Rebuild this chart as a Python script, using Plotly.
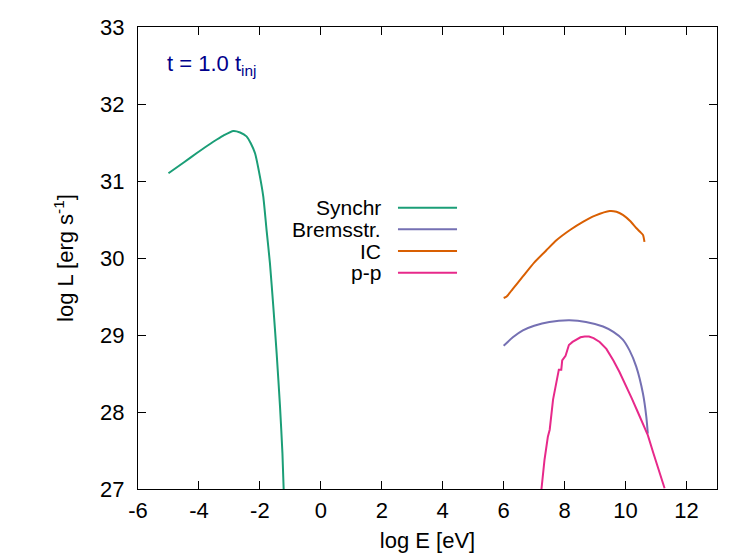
import plotly.graph_objects as go

# ---- data (log E [eV], log L [erg/s]) ----
synchr_E = [-5.0, -4.5, -4.08, -3.53, -3.2, -2.87, -2.65, -2.44, -2.3, -2.16, -2.0, -1.89, -1.78, -1.67, -1.56, -1.45, -1.34, -1.26, -1.22]
synchr_L = [31.10, 31.24, 31.36, 31.51, 31.59, 31.65, 31.63, 31.58, 31.49, 31.36, 31.06, 30.80, 30.36, 29.93, 29.37, 28.76, 28.07, 27.46, 27.00]

brems_E = [6.0, 6.3, 6.63, 7.0, 7.5, 8.16, 8.7, 9.26, 9.6, 9.91, 10.13, 10.35, 10.57, 10.68, 10.73]
brems_L = [28.86, 28.97, 29.06, 29.12, 29.17, 29.19, 29.17, 29.11, 29.04, 28.94, 28.80, 28.59, 28.24, 27.94, 27.72]

ic_E = [6.0, 6.1, 6.3, 6.63, 7.0, 7.4, 7.73, 8.2, 8.6, 9.0, 9.48, 9.7, 9.91, 10.15, 10.35, 10.50, 10.57, 10.62]
ic_L = [29.48, 29.50, 29.60, 29.76, 29.94, 30.10, 30.23, 30.37, 30.47, 30.55, 30.61, 30.60, 30.56, 30.48, 30.39, 30.33, 30.30, 30.21]

pp_E = [7.24, 7.34, 7.45, 7.51, 7.62, 7.73, 7.81, 7.89, 7.92, 8.03, 8.08, 8.14, 8.26, 8.38, 8.52, 8.66, 8.8, 8.95, 9.15, 9.37, 9.6, 9.8, 10.02, 10.2, 10.4, 10.6, 10.73, 10.9, 11.1, 11.28]
pp_L = [27.00, 27.38, 27.68, 27.77, 28.16, 28.37, 28.55, 28.55, 28.67, 28.73, 28.81, 28.87, 28.91, 28.94, 28.97, 28.98, 28.98, 28.96, 28.91, 28.82, 28.67, 28.52, 28.34, 28.18, 28.00, 27.83, 27.70, 27.48, 27.24, 27.01]

series_names = ["Synchr", "Bremsstr.", "IC", "p-p"]
series_colors = ["#1b9e77", "#7570b3", "#d95f02", "#e7298a"]
series_shapes = ["spline", "spline", "spline", "linear"]
series_data = [(synchr_E, synchr_L), (brems_E, brems_L), (ic_E, ic_L), (pp_E, pp_L)]

x_ticks = [-6, -4, -2, 0, 2, 4, 6, 8, 10, 12]
y_ticks = [27, 28, 29, 30, 31, 32, 33]

FONT = "Liberation Sans, Arial, sans-serif"
FS = 22

fig = go.Figure()
for name, color, shp, (xs, ys) in zip(series_names, series_colors, series_shapes, series_data):
    fig.add_trace(go.Scatter(x=xs, y=ys, mode="lines", name=name,
                             line=dict(color=color, width=2, shape=shp, smoothing=0.6),
                             showlegend=False))

# manual gnuplot-style legend (text left of sample line)
leg_top = 0.609
leg_step = 0.047
for i, (name, color) in enumerate(zip(series_names, series_colors)):
    yy = leg_top - i * leg_step
    fig.add_annotation(xref="paper", yref="paper", x=0.423, y=yy, text=name,
                       showarrow=False, xanchor="right", yanchor="middle",
                       font=dict(family=FONT, size=21, color="black"))
    fig.add_shape(type="line", xref="paper", yref="paper",
                  x0=0.449, x1=0.551, y0=yy, y1=yy,
                  line=dict(color=color, width=2))

fig.add_annotation(xref="paper", yref="paper", x=0.046, y=0.918,
                   text="t = 1.0 t<sub>inj</sub>", showarrow=False,
                   xanchor="left", yanchor="middle",
                   font=dict(family=FONT, size=FS, color="#00008b"))

axis_common = dict(showline=True, linecolor="black", linewidth=1, mirror="ticks",
                   ticks="inside", ticklen=8, tickcolor="black", showgrid=False,
                   zeroline=False, automargin=False,
                   tickfont=dict(family=FONT, size=FS, color="black"))

fig.update_xaxes(range=[-6, 13], tickvals=x_ticks, ticktext=[str(v) for v in x_ticks],
                 title=dict(text="log E [eV]", font=dict(family=FONT, size=FS), standoff=10),
                 ticklabelstandoff=2, **axis_common)
fig.update_yaxes(range=[27, 33], tickvals=y_ticks, ticktext=[str(v) for v in y_ticks],
                 title=dict(text="log L [erg s<sup>-1</sup>]", font=dict(family=FONT, size=FS), standoff=20),
                 ticklabelstandoff=8, **axis_common)

fig.update_layout(width=732, height=560, plot_bgcolor="white", paper_bgcolor="white",
                  margin=dict(l=130, r=23, t=19, b=79),
                  font=dict(family=FONT, size=FS, color="black"))

fig.write_html("out.html")
